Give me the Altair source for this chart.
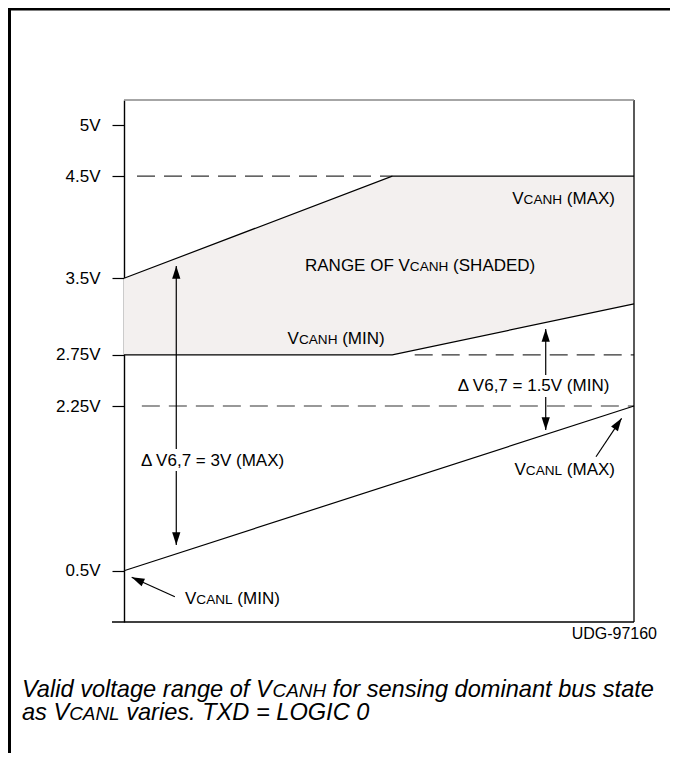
import re
import altair as alt
import pandas as pd

# ---------------- data (volts, x = relative position along V_CANL sweep) ----------------
x_canh = [0.0, 0.526, 1.0]          # shared breakpoints of V_CANH limits
v_canh_max = [3.5, 4.5, 4.5]
v_canh_min = [2.75, 2.75, 3.25]
x_canl = [0.0, 1.0]
v_canl = [0.5, 2.25]

tick_values = [0.5, 2.25, 2.75, 3.5, 4.5, 5.0]

ref_levels = [4.5, 2.75, 2.25]
ref_x_start = [0.0255, 0.57, 0.035]
ref_x_end = [0.526, 1.0, 1.0]

# arrow shafts
shaft_x1 = [0.1025, 0.1025, 0.8269, 0.8269, 0.0998, 0.9255]
shaft_y1 = [3.620, 1.559, 3.004, 2.338, 0.224, 1.711]
shaft_x2 = [0.1025, 0.1025, 0.8269, 0.8269, 0.0151, 0.9757]
shaft_y2 = [1.793, 0.773, 2.553, 1.995, 0.430, 2.119]
# arrow heads (tip position, direction in degrees clockwise from up)
head_x = [0.1025, 0.1025, 0.8269, 0.8269, 0.0151, 0.9757]
head_y = [3.620, 0.773, 3.004, 1.995, 0.430, 2.119]
head_angle = [0, 180, 0, 180, 294, 34]

# annotation labels: {..} marks small-caps part
label_text = ["V{CANH} (MAX)", "RANGE OF V{CANH} (SHADED)", "V{CANH} (MIN)",
              "\u0394 V6,7 = 1.5V (MIN)", "\u0394 V6,7 = 3V (MAX)",
              "V{CANL} (MAX)", "V{CANL} (MIN)"]
label_x = [0.9627, 0.3549, 0.3208, 0.6543, 0.0333, 0.9627, 0.1196]
label_v = [4.283, 3.630, 2.913, 2.456, 1.676, 1.577, 0.207]
label_align = ["right", "left", "left", "left", "left", "right", "left"]

caption_lines = ["Valid voltage range of V{CANH} for sensing dominant bus state",
                 "as V{CANL} varies. TXD = LOGIC 0"]
figure_id = "UDG-97160"

# ---------------- layout / style ----------------
FONT = "Liberation Sans, Arial, Helvetica, sans-serif"
W, H = 510, 522
PAD = {"left": 116, "top": 92, "right": 36, "bottom": 131}
LABEL_FS = 17
CAP_FS = 23.6
SC = 0.8

AW = {' ': 278, '(': 333, ')': 333, ',': 278, '-': 333, '.': 278, '=': 584,
      'A': 667, 'C': 722, 'D': 722, 'E': 667, 'F': 611, 'G': 778, 'H': 722,
      'I': 278, 'L': 556, 'M': 833, 'N': 722, 'O': 778, 'R': 722, 'S': 667,
      'T': 611, 'U': 722, 'V': 667, 'X': 667,
      'a': 556, 'b': 556, 'c': 500, 'd': 556, 'e': 556, 'f': 278, 'g': 556,
      'h': 556, 'i': 222, 'l': 222, 'm': 833, 'n': 556, 'o': 556, 'r': 333,
      's': 500, 't': 278, 'u': 556, 'v': 500, 'y': 500, '\u0394': 668}


def tw(s, fs):
    return sum(AW.get(c, 556) for c in s) / 1000.0 * fs


def segments(label, fs):
    """split label into (text, offset_px, fontsize) with small-caps parts"""
    parts = re.split(r"(\{[^}]*\})", label)
    out, pos = [], 0.0
    for p in parts:
        if not p:
            continue
        if p.startswith("{"):
            txt, f = p[1:-1], fs * SC
        else:
            txt, f = p, fs
        lead = len(txt) - len(txt.lstrip(" "))
        stripped = txt.strip(" ")
        if stripped:
            out.append((stripped, pos + tw(" " * lead, f), f))
        pos += tw(txt, f)
    return out, pos


rows = []
for t, x, v, al in zip(label_text, label_x, label_v, label_align):
    segs, total = segments(t, LABEL_FS)
    start = -total if al == "right" else 0.0
    for s, off, f in segs:
        rows.append({"x": x + (start + off) / W, "v": v, "t": s, "fs": f})
labels_df = pd.DataFrame(rows)

cap_rows = []
cap_x0, cap_y0, cap_lh = -102, 597, 23
for i, line in enumerate(caption_lines):
    segs, _ = segments(line, CAP_FS)
    for s, off, f in segs:
        cap_rows.append({"px": cap_x0 + off, "py": cap_y0 + i * cap_lh, "t": s, "fs": f})
cap_df = pd.DataFrame(cap_rows)

yscale = alt.Scale(domain=[-0.045, 0.5, 2.25, 5.245], range=[522, 470.7, 306, 0],
                   nice=False, zero=False)
xscale = alt.Scale(domain=[0, 1], nice=False, zero=False)
yaxis = alt.Axis(values=tick_values, labelExpr="datum.value + 'V'", title=None,
                 grid=False, tickSize=12, tickColor="black", tickWidth=1.2,
                 domainColor="black", domainWidth=1.4, labelFont=FONT,
                 labelFontSize=17, labelColor="black", labelPadding=12,
                 labelOverlap=False, labelFlush=False)


def X(f):
    return alt.X(f, type="quantitative", scale=xscale, axis=None)


def Y(f):
    return alt.Y(f, type="quantitative", scale=yscale, axis=yaxis)


band_df = pd.DataFrame({"x": x_canh, "lo": v_canh_min, "hi": v_canh_max})
lines_df = pd.concat([
    pd.DataFrame({"s": "canh_max", "x": x_canh, "v": v_canh_max}),
    pd.DataFrame({"s": "canh_min", "x": x_canh, "v": v_canh_min}),
    pd.DataFrame({"s": "canl", "x": x_canl, "v": v_canl}),
])
ref_df = pd.DataFrame({"xs": ref_x_start, "xe": ref_x_end, "v": ref_levels})
shaft_df = pd.DataFrame({"x": shaft_x1, "x2": shaft_x2, "v": shaft_y1, "v2": shaft_y2})
head_df = pd.DataFrame({"x": head_x, "v": head_y, "ang": head_angle})

ARROW = "M0,0 L0.65,2 L-0.65,2 Z"

area = alt.Chart(band_df).mark_area(color="#f3f0ef", opacity=1).encode(
    x=X("x"), y=Y("lo"), y2="hi")

lines = alt.Chart(lines_df).mark_line(color="black", strokeWidth=1.2).encode(
    x=X("x"), y=Y("v"), detail="s:N")

refs = alt.Chart(ref_df).mark_rule(color="#333333", strokeWidth=1.2,
                                   strokeDash=[18, 9]).encode(
    x=X("xs"), x2="xe", y=Y("v"))

shafts = alt.Chart(shaft_df).mark_rule(color="black", strokeWidth=1.2).encode(
    x=X("x"), x2="x2", y=Y("v"), y2="v2")

heads = alt.Chart(head_df).mark_point(shape=ARROW, filled=True, size=161,
                                      color="black", opacity=1, strokeWidth=0).encode(
    x=X("x"), y=Y("v"), angle=alt.Angle("ang:Q", scale=None))

labels = alt.Chart(labels_df).mark_text(align="left", baseline="alphabetic", dy=6,
                                        font=FONT, color="black").encode(
    x=X("x"), y=Y("v"), text="t:N", size=alt.Size("fs:Q", scale=None))

caption = alt.Chart(cap_df).mark_text(align="left", baseline="alphabetic",
                                      font=FONT, fontStyle="italic",
                                      color="black").encode(
    x=alt.X("px:Q", scale=None), y=alt.Y("py:Q", scale=None), text="t:N",
    size=alt.Size("fs:Q", scale=None))

# decorations: plot frame and outer figure frame
deco = []
deco.append(alt.Chart().mark_rule(color="black", strokeWidth=1.3).encode(
    x=alt.value(W), y=alt.value(0), y2=alt.value(H)))
deco.append(alt.Chart().mark_rule(color="#888888", strokeWidth=1.3).encode(
    x=alt.value(0), x2=alt.value(W), y=alt.value(0)))
deco.append(alt.Chart().mark_rule(color="black", strokeWidth=1.3).encode(
    x=alt.value(-12), x2=alt.value(W), y=alt.value(H)))
deco.append(alt.Chart().mark_rule(color="black", strokeWidth=3).encode(
    x=alt.value(-114.5), y=alt.value(-92), y2=alt.value(H + PAD["bottom"])))
deco.append(alt.Chart().mark_rule(color="black", strokeWidth=3).encode(
    x=alt.value(-116), x2=alt.value(W + PAD["right"]), y=alt.value(-91)))
udg = alt.Chart().mark_text(align="right", baseline="alphabetic", font=FONT,
                            fontSize=16, color="black", text=figure_id).encode(
    x=alt.value(533), y=alt.value(538.5))

chart = alt.layer(area, refs, lines, shafts, heads, labels, caption, udg, *deco).properties(
    width=W, height=H, padding=PAD, autosize=alt.AutoSizeParams(type="none")
).configure_view(stroke=None)

chart.save("out.html", embed_options={"renderer": "svg", "actions": False})
